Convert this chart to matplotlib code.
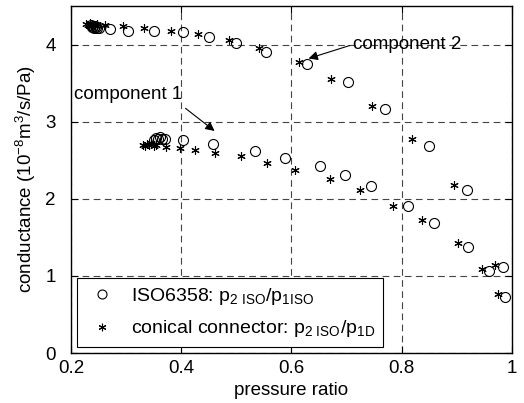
import matplotlib
matplotlib.use("Agg")

import matplotlib.pyplot as plt

plt.rcParams["font.family"] = ["Liberation Sans", "DejaVu Sans"]
plt.rcParams["mathtext.fontset"] = "custom"
plt.rcParams["mathtext.rm"] = "Liberation Sans"
plt.rcParams["mathtext.it"] = "Liberation Sans:italic"
plt.rcParams["mathtext.default"] = "regular"

FS = 13.5

# ISO6358 (circles), both components
iso_x = [0.236, 0.238, 0.240, 0.242, 0.244, 0.246, 0.248, 0.250,
         0.270, 0.304, 0.351, 0.404, 0.450, 0.500, 0.554, 0.629,
         0.702, 0.769, 0.850, 0.919, 0.983,
         0.350, 0.354, 0.358, 0.362, 0.366, 0.370,
         0.403, 0.457, 0.534, 0.589, 0.652, 0.697, 0.744,
         0.812, 0.858, 0.921, 0.959, 0.988]
iso_y = [4.25, 4.23, 4.24, 4.22, 4.24, 4.23, 4.22, 4.22,
         4.20, 4.18, 4.17, 4.16, 4.10, 4.02, 3.90, 3.75,
         3.51, 3.17, 2.68, 2.12, 1.11,
         2.76, 2.79, 2.77, 2.80, 2.78, 2.77,
         2.76, 2.71, 2.62, 2.53, 2.43, 2.31, 2.16,
         1.91, 1.69, 1.37, 1.07, 0.73]

# conical connector (asterisks)
con_x = [0.228, 0.231, 0.234, 0.237, 0.240, 0.243, 0.247,
         0.262, 0.295, 0.332, 0.382, 0.431, 0.486, 0.541, 0.613,
         0.672, 0.746, 0.819, 0.895,
         0.330, 0.334, 0.338, 0.342, 0.346, 0.350, 0.355,
         0.372, 0.397, 0.425, 0.462, 0.509, 0.555, 0.607,
         0.669, 0.725, 0.785, 0.836, 0.903, 0.945, 0.970, 0.974]
con_y = [4.27, 4.25, 4.28, 4.24, 4.26, 4.25, 4.27,
         4.25, 4.24, 4.22, 4.17, 4.14, 4.06, 3.95, 3.78,
         3.56, 3.21, 2.78, 2.18,
         2.70, 2.69, 2.71, 2.70, 2.72, 2.69, 2.70,
         2.67, 2.66, 2.63, 2.59, 2.55, 2.47, 2.37,
         2.26, 2.12, 1.91, 1.72, 1.43, 1.09, 1.14, 0.77]

fig = plt.figure(figsize=(5.24, 4.03), dpi=100)
ax = fig.add_axes([0.1355, 0.124, 0.8415, 0.861])

ax.plot(iso_x, iso_y, "o", mfc="none", mec="black", ms=7.2, mew=0.8,
        label=r"ISO6358: p$_{2\ ISO}$/p$_{1ISO}$")
ax.plot(con_x, con_y, marker=(6, 2, 0), ls="none", color="black", ms=6,
        mew=0.8, label=r"conical connector: p$_{2\ ISO}$/p$_{1D}$")

ax.set_xlim(0.2, 1.0)
ax.set_ylim(0, 4.5)
ax.set_xticks([0.2, 0.4, 0.6, 0.8, 1.0])
ax.set_xticklabels(["0.2", "0.4", "0.6", "0.8", "1"])
ax.set_yticks([0, 1, 2, 3, 4])
ax.tick_params(direction="in", labelsize=FS, top=True, right=True, length=5)
ax.tick_params(axis="y", pad=11)
ax.tick_params(axis="x", pad=5)
ax.grid(True, ls=(0, (6, 4)), color="#444444", lw=0.8)
for s in ax.spines.values():
    s.set_linewidth(1.0)

ax.set_xlabel("pressure ratio", fontsize=FS)
ax.set_ylabel(r"conductance (10$^{-8}$m$^{3}$/s/Pa)", fontsize=FS)
ax.xaxis.set_label_coords(0.5, -0.084)
ax.yaxis.set_label_coords(-0.075, 0.5)

ax.annotate("component 1", xy=(0.4605, 2.88), xytext=(0.2054, 3.35),
            fontsize=FS, va="center",
            arrowprops=dict(arrowstyle="-|>", color="black", lw=0.8,
                            shrinkA=0, shrinkB=0, relpos=(1.03, -0.3)))
ax.annotate("component 2", xy=(0.631, 3.82), xytext=(0.711, 4.00),
            fontsize=FS, va="center",
            arrowprops=dict(arrowstyle="-|>", color="black", lw=0.8,
                            shrinkA=0, shrinkB=0, relpos=(0, 0.5)))

leg = ax.legend(loc="lower left", fontsize=14, fancybox=False,
                edgecolor="black", framealpha=1, borderaxespad=0.3,
                handletextpad=0.6, labelspacing=0.6, markerscale=0.9,
                handlelength=1.8)
leg.get_frame().set_linewidth(0.8)

fig.savefig("out.png", dpi=100)
